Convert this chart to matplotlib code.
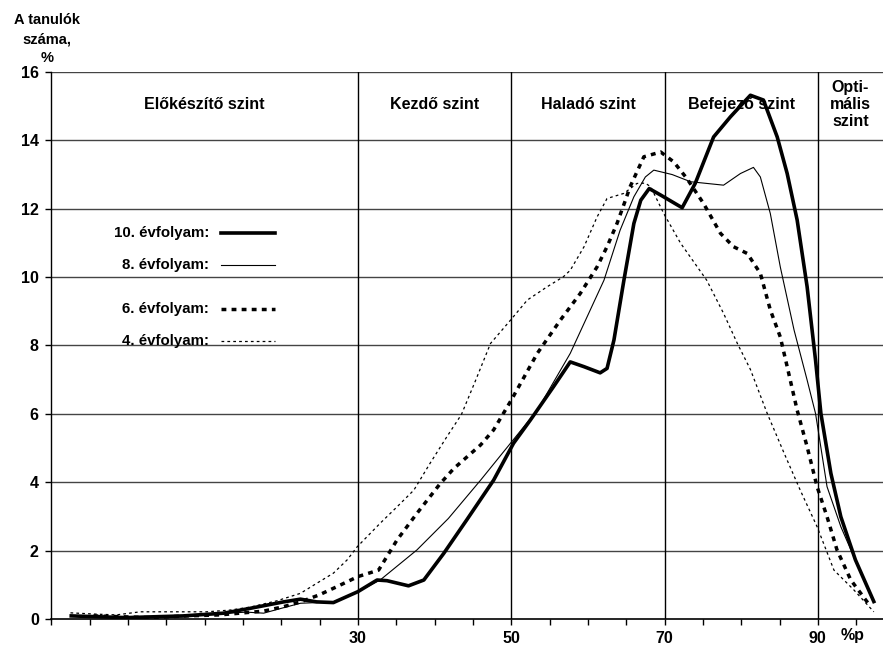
import numpy as np
import matplotlib
matplotlib.use("Agg")
import matplotlib.pyplot as plt

plt.rcParams['font.family'] = ['Liberation Sans', 'DejaVu Sans']
plt.rcParams['font.weight'] = 'bold'

## DATA
# x: percentage points, y: share of students, %
g10_x = [-7.4, -0.2, 7.2, 12.5, 15.9, 20.3, 22.5, 24.6, 26.8, 29, 30, 32.5, 33.8, 36.6,
         38.6, 41.2, 44.2, 47.7, 50.3, 52.5, 55.5, 57.7, 59.5, 61.6, 62.5, 63.4, 64.7,
         66, 66.9, 68, 69.5, 72.3, 74, 76.4, 78.6, 81.2, 82.9, 84.7, 86, 87.3, 88.6,
         89.7, 90.4, 91.7, 93, 94.9, 97.3]
g10_y = [0.09, 0.04, 0.09, 0.17, 0.31, 0.5, 0.58, 0.5, 0.48, 0.7, 0.8, 1.14, 1.12, 0.97,
         1.14, 1.92, 2.9, 4.06, 5.14, 5.82, 6.79, 7.52, 7.38, 7.2, 7.33, 8.16, 9.91,
         11.57, 12.25, 12.59, 12.4, 12.03, 12.74, 14.1, 14.69, 15.32, 15.18, 14.1, 13.03,
         11.67, 9.72, 7.57, 6.01, 4.26, 2.99, 1.73, 0.51]

g8_x = [-7.4, 0, 7, 12, 15.5, 17.7, 20.3, 22.5, 26.8, 30, 32.9, 37.7, 41.8, 46, 49.9,
        53.4, 57.7, 62.1, 64.2, 66, 67.5, 68.6, 71, 73.4, 77.7, 79.9, 81.6, 82.5, 83.8,
        85.1, 86.9, 88.6, 89.7, 91.2, 93, 94.7, 97.3]
g8_y = [0.08, 0.04, 0.06, 0.16, 0.2, 0.17, 0.33, 0.46, 0.5, 0.8, 1.14, 2.02, 2.94, 4.06,
        5.14, 6.11, 7.77, 9.91, 11.37, 12.35, 12.93, 13.13, 13.0, 12.79, 12.69, 13.03,
        13.21, 12.93, 11.86, 10.3, 8.45, 6.99, 6.01, 3.87, 2.7, 1.82, 0.5]

g6_x = [-4.5, 2.9, 7.7, 12, 15.1, 17.7, 20.3, 22.5, 24.9, 27.3, 30, 32.7, 35.1, 37.7,
        40.7, 42.5, 46, 47.7, 50, 53.4, 56.4, 59, 61.2, 62.5, 63.8, 64.9, 65.5, 67.3,
        69.5, 71.2, 72.9, 75.1, 77.3, 79, 80.8, 82.5, 83.8, 85.1, 86, 87.3, 88.6, 89.9,
        91.2, 92.5, 94.3, 96.9]
g6_y = [0.09, 0.04, 0.09, 0.12, 0.18, 0.23, 0.36, 0.5, 0.7, 0.95, 1.24, 1.43, 2.31, 3.09,
        3.95, 4.4, 5.09, 5.53, 6.4, 7.77, 8.74, 9.52, 10.3, 10.89, 11.57, 12.25, 12.64,
        13.52, 13.66, 13.37, 12.89, 12.15, 11.28, 10.89, 10.69, 10.11, 9.04, 8.25, 7.38,
        6.11, 5.04, 3.87, 2.99, 2.02, 1.14, 0.36]

g4_x = [-7.5, -4, -1.5, 1.6, 6, 10.3, 13.3, 16, 19.4, 22.5, 24.6, 26.8, 28.6, 29.9, 32.9,
        35.1, 37.3, 39.4, 41.6, 43.5, 45.3, 47.3, 49.9, 52.1, 54.7, 56.8, 57.7, 59.5,
        61.2, 62.5, 64.7, 66.4, 67.5, 68.2, 69.9, 72.1, 75.5, 77.7, 79.5, 81.2, 83.4,
        85.6, 87.7, 89.9, 92.1, 94.7, 97.3]
g4_y = [0.18, 0.14, 0.12, 0.21, 0.21, 0.21, 0.26, 0.35, 0.53, 0.75, 1.04, 1.34, 1.73,
        2.11, 2.8, 3.28, 3.77, 4.55, 5.33, 5.98, 6.95, 8.06, 8.74, 9.33, 9.72, 10.01,
        10.2, 10.89, 11.76, 12.3, 12.45, 12.74, 12.75, 12.64, 11.86, 10.99, 9.91, 8.94,
        8.06, 7.3, 6.01, 4.85, 3.77, 2.7, 1.43, 0.85, 0.21]

series_labels = ["10. évfolyam:", "8. évfolyam:", "6. évfolyam:", "4. évfolyam:"]

band_names = ["Előkészítő szint", "Kezdő szint", "Haladó szint", "Befejező szint",
              "Opti-\nmális\nszint"]
band_edges = [-10, 30, 50, 70, 90, 98.5]
x_labels = [30, 50, 70, 90]

## FIGURE
fig = plt.figure(figsize=(8.83, 6.47), dpi=100)
ax = fig.add_axes([0.0581, 0.0433, 0.9419, 0.8454])
ax.set_xlim(band_edges[0], band_edges[-1])
ax.set_ylim(0, 16)

# grid
for yv in range(2, 17, 2):
    ax.axhline(yv, color='#444444', lw=1.0, zorder=1)
for xv in band_edges[1:-1]:
    ax.axvline(xv, color='black', lw=1.0, zorder=1)

styles = [
    dict(color='black', lw=2.6, ls='-'),
    dict(color='black', lw=0.8, ls='-'),
    dict(color='black', lw=2.5, ls=(0, (1.4, 1.5))),
    dict(color='black', lw=0.9, ls=(0, (2.2, 2.5))),
]
data = [(g10_x, g10_y), (g8_x, g8_y), (g6_x, g6_y), (g4_x, g4_y)]
for (xs, ys), st in zip(data[::-1], styles[::-1]):
    ax.plot(xs, ys, solid_joinstyle='round', zorder=3, **st)

# band titles
for name, a, b in zip(band_names, band_edges[:-1], band_edges[1:]):
    ax.text((a + b) / 2, 15.05, name, ha='center', va='center', fontsize=11.5,
            fontweight='bold', linespacing=1.2)

# legend drawn by hand, text right aligned
leg_y = [0.706, 0.648, 0.567, 0.509]
for lab, st, yy in zip(series_labels, styles, leg_y):
    ax.text(0.1897, yy, lab, transform=ax.transAxes, ha='right', va='center',
            fontsize=10.8)
    ax.plot([0.2035, 0.2695], [yy, yy], transform=ax.transAxes, **st)

# axes
ax.spines['right'].set_visible(False)
ax.spines['top'].set_visible(False)
ax.spines['left'].set_linewidth(1.0)
ax.spines['bottom'].set_linewidth(1.2)
ax.set_yticks(np.arange(0, 17, 2))
ax.set_yticklabels([str(v) for v in range(0, 17, 2)], fontsize=11.5, fontweight='bold')
xt = np.arange(-10, 96, 5)
ax.set_xticks(xt)
ax.set_xticklabels([str(v) if v in x_labels else '' for v in xt], fontsize=11.5,
                   fontweight='bold')
ax.tick_params(axis='both', direction='out', length=4, width=1, color='black')
ax.tick_params(axis='x', pad=5)
ax.tick_params(axis='y', pad=5)
ax.text(94.5, -0.0165, "%p", transform=ax.get_xaxis_transform(), ha='center',
        va='top', fontsize=11.5, fontweight='bold')

fig.text(47 / 883, 1 - 39 / 647, "A tanulók\nszáma,\n%", ha='center', va='center',
         fontsize=10.5, fontweight='bold', linespacing=1.5)

fig.savefig("out.png", dpi=100)
